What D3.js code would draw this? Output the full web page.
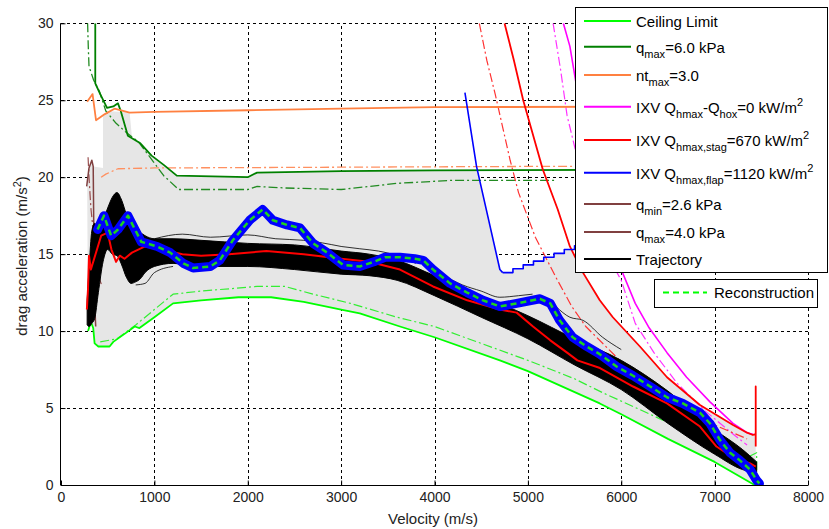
<!DOCTYPE html>
<html><head><meta charset="utf-8">
<script src="https://cdn.jsdelivr.net/npm/d3@7"></script>
<style>body{margin:0;background:#fff}svg{display:block}text{font-family:"Liberation Sans",Arial,sans-serif}</style>
</head><body><svg id="c" width="829" height="529"></svg>
<script>
// ---------- DATA ----------
const xTicks=[0,1000,2000,3000,4000,5000,6000,7000,8000];
const yTicks=[0,5,10,15,20,25,30];

const ceilingLimit=[[290,10.0],[320,10.6],[345,10.2],[360,9.2],[400,9.0],[520,9.0],[560,9.3],[700,9.9],[790,10.3],[840,10.2],[1000,10.9],[1200,11.8],[1500,12.0],[1900,12.2],[2250,12.2],[2600,11.9],[3000,11.4],[3200,11.15],[3630,10.3],[4000,9.6],[4700,8.1],[5000,7.4],[5770,5.3],[6000,4.6],[6500,3.0],[7000,1.5],[7400,0.1],[7430,0]];
const ceilingDispersed=[[420,9.3],[600,9.5],[800,10.4],[1000,11.4],[1200,12.4],[1500,12.6],[2100,12.9],[2400,12.9],[2700,12.4],[3100,11.8],[3600,10.9],[4000,10.3],[4500,9.2],[5000,8.1],[5500,6.9],[5800,6.0],[6200,4.9],[6700,3.5],[7100,2.4],[7350,1.8],[7450,2.1],[7450,0.6]];
const qmax6=[[367,30],[367,26.1],[420,25.4],[493,24.5],[560,24.6],[610,24.8],[640,24.3],[716,22.7],[850,22.2],[970,21.4],[1100,20.8],[1240,20.1],[2000,20.0],[2100,20.3],[3000,20.4],[4000,20.45],[7400,20.5]];
const qmax6Dispersed=[[285,30],[292,28.5],[300,27.2],[350,26.3],[410,25.6],[480,24.3],[590,23.5],[700,22.9],[830,22.3],[990,21.0],[1100,20.1],[1260,19.2],[2000,19.2],[2100,19.4],[2400,19.3],[3000,19.2],[3600,19.6],[4200,19.8],[5300,19.8]];
const ntmax=[[280,24.9],[338,25.4],[375,23.7],[470,24.1],[573,24.45],[735,24.2],[1000,24.25],[2000,24.35],[3000,24.45],[4000,24.55],[7400,24.6]];
const ntmaxDispersed=[[430,20.0],[480,20.2],[610,20.55],[1000,20.6],[3000,20.65],[5000,20.7],[7400,20.7]];
const qmin26=[[275,19.4],[300,20.6],[330,21.1],[345,20.7],[352,16.0],[360,11.8],[372,10.3]];
const qmax4=[[290,21.3],[300,20.0],[320,18.0],[345,16.5],[380,14.0],[440,12.9]];
const ixvHox=[[5380,30],[5450,28.5],[5530,25.6],[5700,20.5],[5850,16.8],[6000,14.0],[6150,11.8],[6300,10.2],[6490,8.6],[6700,7.0],[6950,5.4],[7197,4.0],[7347,3.4],[7410,3.3]];
const ixvHoxDispersed=[[5270,30],[5350,27.0],[5420,24.0],[5600,19.5],[5800,15.5],[6000,13.3],[6150,10.5],[6350,8.6],[6600,6.6],[6900,4.8],[7200,3.3],[7347,2.6]];
const ixvStag=[[4750,30],[4850,27.6],[4950,25.0],[5160,20.5],[5320,17.9],[5450,15.5],[5590,13.8],[5770,12.0],[5910,10.9],[6200,9.0],[6490,7.0],[6843,5.2],[7197,3.9],[7347,3.4],[7410,3.25],[7440,3.3],[7440,6.4],[7440,2.5]];
const ixvStagDispersed=[[4480,30],[4560,27.6],[4650,25.4],[4810,21.1],[4900,19.0],[5080,16.1],[5300,13.5],[5470,11.6],[5620,10.3],[6000,8.0],[6500,5.6],[7000,3.9],[7347,3.0]];
const ixvFlapDiag=[[4326,25.5],[4450,20.7],[4700,14.0],[4730,13.8]];
const ixvFlapSteps=[[4730,13.8],[4840,14.05],[4950,14.3],[5060,14.55],[5170,14.8],[5280,15.05],[5390,15.3],[5500,15.55],[5610,15.8],[5720,16.05],[5830,16.3]];
const trajV =[280,300,330,360,400,450,500,550,600,650,700,750,800,850,900,1000,1200,1500,2000,2500,3000,3300,3600,4000,4500,5000,5500,6000,6500,7000,7300,7450];
const trajLo=[10.4,10.3,10.5,10.8,12.5,14.5,15.3,15.0,14.9,14.3,13.5,13.1,13.2,13.4,13.8,14.2,14.4,14.2,14.2,14.0,13.7,13.6,13.3,12.3,10.9,9.5,7.8,6.2,4.0,2.0,1.0,0.8];
const trajHi=[12.0,14.0,16.5,17.0,16.8,17.2,18.0,18.7,19.0,18.5,17.6,17.0,16.6,16.4,16.2,16.0,16.0,15.9,15.7,15.6,15.2,15.0,14.6,13.6,12.3,11.0,9.5,8.1,6.1,3.6,2.3,1.5];
const trajOutlierA=[[1000,16.0],[1300,16.3],[1600,16.1],[2000,16.25],[2300,16.0],[2600,15.9],[3000,15.5]];
const trajOutlierB=[[5300,11.6],[5450,10.9],[5590,10.7],[5800,9.6],[6000,8.8]];
const trajOutlierC=[[800,13.0],[900,13.1],[1000,13.8],[1200,14.2]];
const trajOutlierD=[[3000,15.5],[3200,15.35],[3400,15.2],[3600,14.9],[3800,14.4]];
const trajOutlierE=[[4100,13.6],[4300,13.0],[4500,12.6],[4700,12.2],[4900,12.3],[5050,12.4]];
const nominal=[[277,11.4],[289,12.7],[300,14.9],[320,14.0],[430,16.2],[500,16.4],[540,15.3],[590,14.5],[630,14.9],[680,14.7],[760,15.1],[900,15.5],[1000,15.4],[1300,15.0],[1500,14.9],[1800,15.0],[2200,15.2],[2600,15.0],[3000,14.7],[3300,14.5],[3630,14.0],[3984,12.9],[4350,12.0],[4700,11.4],[4880,11.2],[5055,10.3],[5240,9.4],[5420,8.6],[5530,8.1],[5772,7.6],[6127,6.4],[6490,5.3],[6843,3.8],[7020,2.5],[7197,1.8],[7380,1.4],[7440,1.2]];
const reconstruction=[[392,16.6],[460,17.5],[537,16.2],[610,16.6],[717,17.5],[860,15.8],[1030,15.5],[1170,15.1],[1310,14.4],[1415,14.1],[1600,14.2],[1700,14.6],[1840,15.9],[2020,17.2],[2160,17.9],[2270,17.2],[2420,16.9],[2560,16.7],[2700,15.7],[2850,15.1],[3020,14.3],[3200,14.2],[3350,14.5],[3470,14.8],[3630,14.8],[3790,14.7],[3880,14.6],[3984,14.0],[4166,13.1],[4350,12.5],[4520,12.0],[4700,11.6],[4880,11.8],[5130,12.1],[5240,11.8],[5340,10.7],[5480,9.6],[5630,9.0],[5770,8.5],[5950,7.7],[6127,7.1],[6310,6.4],[6490,5.7],[6660,5.3],[6843,4.7],[6950,4.0],[7060,2.9],[7165,2.1],[7270,1.6],[7380,1.0],[7450,0.3],[7480,0.1]];
const corridorTop=[[280,19.6],[300,20.5],[330,21.0],[345,20.7],[450,20.6],[450,24.0],[493,24.3],[735,24.2],[760,22.6],[850,22.2],[970,21.4],[1100,20.8],[1240,20.1],[2000,20.0],[2100,20.3],[3000,20.4],[4460,20.45],[4700,14.0],[4730,13.8],[4840,13.8],[4840,14.05],[4950,14.05],[4950,14.3],[5060,14.3],[5060,14.55],[5170,14.55],[5170,14.8],[5280,14.8],[5280,15.05],[5390,15.05],[5390,15.3],[5470,15.3],[5590,13.8],[5770,12.0],[5910,10.9],[6200,9.0],[6490,7.0],[6843,5.2],[7197,3.9],[7347,3.4],[7410,3.25],[7440,3.3],[7440,0]];

const legendLabels=[
 [["Ceiling Limit"]],
 [["q"],["max","sub"],["=6.0 kPa"]],
 [["nt"],["max","sub"],["=3.0"]],
 [["IXV Q"],["hmax","sub"],["-Q"],["hox","sub"],["=0 kW/m"],["2","sup"]],
 [["IXV Q"],["hmax,stag","sub"],["=670 kW/m"],["2","sup"]],
 [["IXV Q"],["hmax,flap","sub"],["=1120 kW/m"],["2","sup"]],
 [["q"],["min","sub"],["=2.6 kPa"]],
 [["q"],["max","sub"],["=4.0 kPa"]],
 [["Trajectory"]]
];
const legendColors=["#00ff00","#008000","#ff8040","#ff00ff","#ff0000","#0000ff","#804040","#804040","#000000"];

// ---------- DRAW ----------
const svg=d3.select("#c");
const x=d3.scaleLinear().domain([0,8000]).range([61,808]);
const y=d3.scaleLinear().domain([0,30]).range([485,23.3]);
const line=d3.line().x(d=>x(d[0])).y(d=>y(d[1]));

svg.append("defs").append("clipPath").attr("id","clip").append("rect")
  .attr("x",x(0)).attr("y",y(30)).attr("width",x(8000)-x(0)).attr("height",y(0)-y(30));

// grid
const grid=svg.append("g").attr("stroke","#000").attr("stroke-width",1).attr("stroke-dasharray","3,3");
grid.selectAll(".gx").data(xTicks.slice(1)).join("line").attr("x1",d=>Math.round(x(d))+0.5).attr("x2",d=>Math.round(x(d))+0.5).attr("y1",y(0)).attr("y2",y(30));
grid.selectAll(".gy").data(yTicks.slice(1)).join("line").attr("y1",d=>Math.round(y(d))+0.5).attr("y2",d=>Math.round(y(d))+0.5).attr("x1",x(0)).attr("x2",x(8000));

const plot=svg.append("g").attr("clip-path","url(#clip)");

// corridor fill
const poly=corridorTop.concat(ceilingLimit.slice().reverse());
plot.append("path").attr("d",line(poly)+"Z").attr("fill","#e6e6e6");

function draw(data,color,w,dash,curve){
  const l=d3.line().x(d=>x(d[0])).y(d=>y(d[1])).curve(curve||d3.curveLinear);
  return plot.append("path").attr("d",l(data)).attr("fill","none").attr("stroke",color)
    .attr("stroke-width",w).attr("stroke-dasharray",dash||null).attr("stroke-linejoin","round");
}
const DD="9,3,2,3";
draw(ceilingDispersed,"#33ee33",1.2,DD);
draw(qmax6Dispersed,"#228b22",1.3,DD);
draw(ntmaxDispersed,"#ff9060",1.3,DD);
draw(ixvHoxDispersed,"#ff33ff",1.2,DD);
draw(ixvStagDispersed,"#ff3333",1.2,DD);
draw(qmax4,"#9a5050",1.2,DD);
draw(ceilingLimit,"#00ff00",1.8);
draw(qmax6,"#008000",1.8);
draw(ntmax,"#ff8040",1.8);
draw(qmin26,"#804040",1.5);
draw(ixvHox,"#ff00ff",1.6);
draw(ixvStag,"#ff0000",1.8);
draw(ixvFlapDiag,"#0000ff",1.6);
draw(ixvFlapSteps,"#0000ff",1.6,null,d3.curveStepAfter);

// trajectory band
const band=trajV.map((v,i)=>({v,lo:trajLo[i],hi:trajHi[i]}));
plot.append("path").attr("d",d3.area().x(d=>x(d.v)).y0(d=>y(d.lo)).y1(d=>y(d.hi)).curve(d3.curveMonotoneX)(band))
  .attr("fill","#000").attr("stroke","#000").attr("stroke-width",1);
[trajOutlierA,trajOutlierB,trajOutlierC,trajOutlierD,trajOutlierE].forEach(o=>draw(o,"#000",0.8,null,d3.curveMonotoneX));

draw(nominal,"#ff0000",2);
draw(reconstruction,"#0000ff",9).attr("stroke-linecap","round");
draw(reconstruction,"#1ed21e",2.5,"6,4");

// axes
const axisColor="#222";
svg.append("line").attr("x1",x(0)).attr("x2",x(8000)).attr("y1",y(0)+0.5).attr("y2",y(0)+0.5).attr("stroke","#000");
svg.append("line").attr("x1",x(0)-0.5).attr("x2",x(0)-0.5).attr("y1",y(0)).attr("y2",y(30)).attr("stroke","#000");
const ax=svg.append("g").attr("transform",`translate(0,${y(0)+0.5})`).call(d3.axisBottom(x).tickValues(xTicks).tickSize(-5).tickPadding(7).tickFormat(d3.format("d")));
const ay=svg.append("g").attr("transform",`translate(${x(0)-0.5},0)`).call(d3.axisLeft(y).tickValues(yTicks).tickSize(-5).tickPadding(7));
[ax,ay].forEach(g=>{g.select(".domain").remove();g.selectAll("text").attr("font-size",14).attr("fill",axisColor).attr("font-family","Liberation Sans, Arial, sans-serif");g.selectAll("line").attr("stroke","#000");});

svg.append("text").attr("x",433).attr("y",524).attr("text-anchor","middle").attr("font-size",15).attr("fill",axisColor).text("Velocity (m/s)");
const yl=svg.append("text").attr("transform","translate(27,256) rotate(-90)").attr("text-anchor","middle").attr("font-size",15).attr("fill",axisColor);
yl.append("tspan").text("drag acceleration (m/s");
yl.append("tspan").attr("font-size",11).attr("dy",-6).text("2");
yl.append("tspan").attr("dy",6).text(")");

// legend 1
const rowsY=[21,46.7,75,106.7,140,172.7,204,232,259];
const lg=svg.append("g");
lg.append("rect").attr("x",575.5).attr("y",7.5).attr("width",252).attr("height",265).attr("fill","#fff").attr("stroke","#000");
legendLabels.forEach((lab,i)=>{
  const ry=rowsY[i];
  lg.append("line").attr("x1",584).attr("x2",631).attr("y1",ry).attr("y2",ry).attr("stroke",legendColors[i]).attr("stroke-width",2);
  const t=lg.append("text").attr("x",636).attr("y",ry+6).attr("font-size",15).attr("fill","#000");
  let shift=0;
  lab.forEach(seg=>{
    const ts=t.append("tspan").text(seg[0]);
    let target=0;
    if(seg[1]==="sub"){target=5;ts.attr("font-size",11);}
    else if(seg[1]==="sup"){target=-7;ts.attr("font-size",11);}
    if(target!==shift){ts.attr("dy",target-shift);shift=target;}
  });
});
// legend 2
const lg2=svg.append("g");
lg2.append("rect").attr("x",654.5).attr("y",279.5).attr("width",163).attr("height",28).attr("fill","#fff").attr("stroke","#000");
lg2.append("line").attr("x1",663).attr("x2",707).attr("y1",292.5).attr("y2",292.5).attr("stroke","#00ff00").attr("stroke-width",2).attr("stroke-dasharray","6,4");
lg2.append("text").attr("x",714).attr("y",298).attr("font-size",15).attr("fill","#000").text("Reconstruction");
</script></body></html>
